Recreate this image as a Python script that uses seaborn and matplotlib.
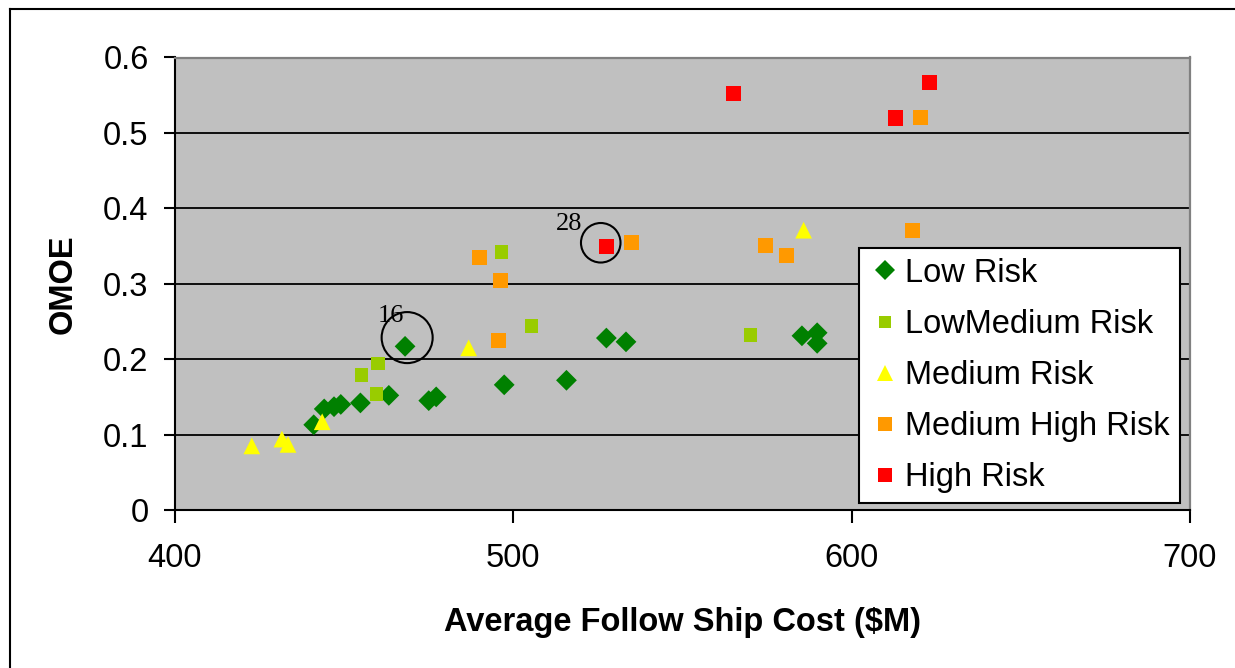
import numpy as np
import pandas as pd
import seaborn as sns
import matplotlib
matplotlib.use("Agg")
from matplotlib import pyplot as plt
from matplotlib.lines import Line2D
from matplotlib.transforms import offset_copy

# data: (cost $M, OMOE) per risk class
low_x = [441.0, 444.1, 447.0, 449.0, 454.8, 463.2, 468.0, 475.0, 477.2, 497.3, 515.7, 527.5, 533.3, 585.3, 589.8, 589.8]
low_y = [0.113, 0.134, 0.137, 0.140, 0.142, 0.152, 0.217, 0.145, 0.150, 0.166, 0.172, 0.228, 0.223, 0.231, 0.235, 0.221]
lowmed_x = [455.1, 460.0, 459.5, 496.5, 505.4, 570.0]
lowmed_y = [0.179, 0.194, 0.154, 0.342, 0.244, 0.232]
med_x = [422.7, 431.6, 433.4, 443.5, 486.8, 585.8]
med_y = [0.085, 0.094, 0.087, 0.117, 0.215, 0.371]
medhigh_x = [490.0, 496.2, 495.6, 534.9, 574.6, 580.8, 620.3, 617.9]
medhigh_y = [0.335, 0.304, 0.225, 0.355, 0.351, 0.338, 0.520, 0.371]
high_x = [527.6, 565.1, 612.9, 623.0]
high_y = [0.349, 0.552, 0.520, 0.567]

risk_names = ["Low Risk", "LowMedium Risk", "Medium Risk", "Medium High Risk", "High Risk"]
colors = {"Low Risk": "#008000", "LowMedium Risk": "#99CC00", "Medium Risk": "#FFFF00",
          "Medium High Risk": "#FF9900", "High Risk": "#FF0000"}
markers = {"Low Risk": "D", "LowMedium Risk": "s", "Medium Risk": "^",
           "Medium High Risk": "s", "High Risk": "s"}
sizes = {"Low Risk": 112, "LowMedium Risk": 92, "Medium Risk": 145,
         "Medium High Risk": 117, "High Risk": 122}
leg_ms = {"Low Risk": 10, "LowMedium Risk": 9.3, "Medium Risk": 11,
          "Medium High Risk": 10, "High Risk": 9.7}

# circled designs: (label, risk class, index in that class)
circled = [("16", "Low Risk", 6), ("28", "High Risk", 0)]

rows = []
for name, xs, ys in zip(risk_names, [low_x, lowmed_x, med_x, medhigh_x, high_x],
                        [low_y, lowmed_y, med_y, medhigh_y, high_y]):
    for a, b in zip(xs, ys):
        rows.append((name, a, b))
df = pd.DataFrame(rows, columns=["Risk", "cost", "omoe"])

plt.rcParams['font.family'] = ['Liberation Sans', 'DejaVu Sans']
fs = 23.5

fig = plt.figure(figsize=(12.35, 6.68), dpi=100)
ax = fig.add_axes([175/1235, 1-510/668, (1190-175)/1235, (510-57.5)/668])
ax.set_facecolor("#C0C0C0")

sns.scatterplot(data=df, x="cost", y="omoe", hue="Risk", style="Risk", size="Risk",
                palette=colors, markers=markers, sizes=sizes, linewidth=0,
                legend=False, ax=ax, zorder=3)

ax.set_xlim(400, 700)
ax.set_ylim(0, 0.6)
ax.set_xticks([400, 500, 600, 700])
ax.set_yticks([0, 0.1, 0.2, 0.3, 0.4, 0.5, 0.6])
ax.set_yticklabels(["0", "0.1", "0.2", "0.3", "0.4", "0.5", "0.6"])
ax.set_axisbelow(True)
ax.yaxis.grid(True, color="black", linewidth=1.3)
ax.xaxis.grid(False)
for s in ["left", "bottom"]:
    ax.spines[s].set_color("black")
    ax.spines[s].set_linewidth(1.5)
for s in ["top", "right"]:
    ax.spines[s].set_color("#808080")
    ax.spines[s].set_linewidth(1.6)
ax.tick_params(axis="y", direction="out", length=8, width=1.5, pad=11, labelsize=fs)
ax.tick_params(axis="x", direction="out", length=9, width=1.5, pad=14.5, labelsize=fs)
ax.set_xlabel("Average Follow Ship Cost ($M)", fontsize=fs, fontweight="bold", labelpad=24)
ax.set_ylabel("OMOE", fontsize=fs, fontweight="bold", labelpad=17.5)

# circles and labels around the highlighted designs
lookup = {"Low Risk": (low_x, low_y), "High Risk": (high_x, high_y)}
circle_style = {"16": (1.5, 6.3, 1350, -10, 22), "28": (-4.3, 2.9, 810, -27, 16.5)}
for lab, name, idx in circled:
    px, py = lookup[name][0][idx], lookup[name][1][idx]
    dx, dy, s, tx, ty = circle_style[lab]
    tr = offset_copy(ax.transData, fig=fig, x=dx, y=dy, units="points")
    ax.scatter([px], [py], s=s, marker="o", facecolors="none", edgecolors="black",
               linewidths=1.5, transform=tr, zorder=4)
    ax.annotate(lab, xy=(px, py), xytext=(tx, ty), textcoords="offset points",
                ha="center", va="center", fontsize=19, family=["Liberation Serif"])

handles = [Line2D([], [], linestyle="none", marker=markers[n], color=colors[n],
                  markeredgewidth=0, markersize=leg_ms[n]) for n in risk_names]
leg = ax.legend(handles, risk_names, loc="lower right", bbox_to_anchor=(0.990, 0.0155),
                borderaxespad=0, fontsize=fs, frameon=True, fancybox=False,
                framealpha=1, edgecolor="black", facecolor="white",
                handlelength=0.98, handletextpad=0.15, labelspacing=0.615, borderpad=0.3)
leg.get_frame().set_linewidth(1.5)

# outer chart border (left and top edges visible)
fig.add_artist(Line2D([10/1235, 10/1235], [0, 1-9/668], color="black", linewidth=1.5))
fig.add_artist(Line2D([10/1235, 1], [1-9/668, 1-9/668], color="black", linewidth=1.5))

fig.savefig("out.png", dpi=100)
